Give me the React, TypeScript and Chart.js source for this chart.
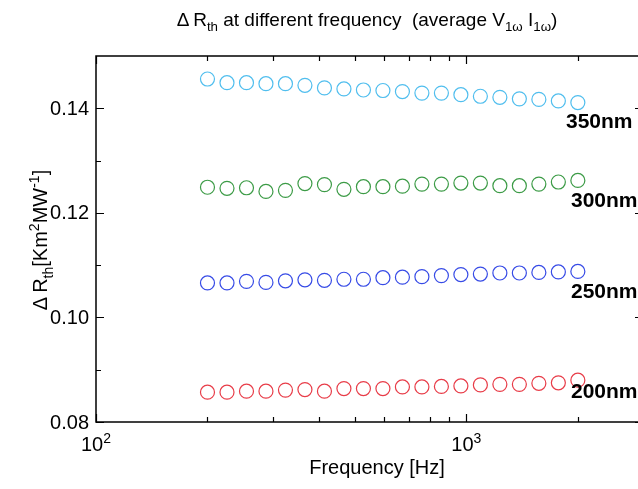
import React, { useEffect, useRef } from "react";
import { Chart, registerables } from "chart.js";

Chart.register(...registerables);

const frequencies = [200, 225.8, 254.9, 287.7, 324.8, 366.6, 413.9, 467.2, 527.4, 595.4, 672.1, 758.7, 856.5, 966.8, 1091.4, 1232.0, 1390.8, 1570.0, 1772.3, 2000.7];
const r350 = [0.1456, 0.1449, 0.1449, 0.1447, 0.1447, 0.1444, 0.1439, 0.1437, 0.1435, 0.1434, 0.1432, 0.1429, 0.1429, 0.1426, 0.1423, 0.1421, 0.1418, 0.1417, 0.1414, 0.1411];
const r300 = [0.1249, 0.1247, 0.1248, 0.1241, 0.1243, 0.1256, 0.1254, 0.1245, 0.125, 0.125, 0.1251, 0.1255, 0.1255, 0.1257, 0.1257, 0.1252, 0.1252, 0.1255, 0.1259, 0.1262];
const r250 = [0.1066, 0.1066, 0.1069, 0.1067, 0.107, 0.1072, 0.1071, 0.1073, 0.1073, 0.1076, 0.1077, 0.1078, 0.108, 0.1082, 0.1083, 0.1085, 0.1085, 0.1086, 0.1087, 0.1088];
const r200 = [0.0857, 0.0857, 0.0859, 0.0859, 0.0861, 0.0862, 0.0859, 0.0864, 0.0864, 0.0864, 0.0867, 0.0867, 0.0868, 0.0869, 0.0871, 0.0872, 0.0872, 0.0874, 0.0875, 0.088];
const seriesNames = ["350nm", "300nm", "250nm", "200nm"];
const seriesColors = ["rgb(80,190,238)", "rgb(60,155,70)", "rgb(55,75,230)", "rgb(232,60,72)"];
const yTicks = [0.08, 0.1, 0.12, 0.14];
const yTickLabels = ["0.08", "0.10", "0.12", "0.14"];
const yMinorTicks = [0.09, 0.11, 0.13];
const xMajorTicks = [100, 1000];
const xTickExponents = ["2", "3"];
const xMinorTicks = [200, 300, 400, 500, 600, 700, 800, 900, 2000, 3000];

const FONT = "'Liberation Sans', Arial, Helvetica, sans-serif";

type Seg = { t: string; m: "n" | "sub" | "sup" };

function segWidth(ctx: CanvasRenderingContext2D, segs: Seg[], size: number, weight = "normal") {
  let w = 0;
  for (const s of segs) {
    const fs = s.m === "n" ? size : size * 0.7;
    ctx.font = `${weight} ${fs}px ${FONT}`;
    w += ctx.measureText(s.t).width;
  }
  return w;
}

function drawSegs(ctx: CanvasRenderingContext2D, segs: Seg[], x: number, y: number, size: number, align: "left" | "center" | "right", weight = "normal") {
  const total = segWidth(ctx, segs, size, weight);
  let cx = align === "left" ? x : align === "center" ? x - total / 2 : x - total;
  ctx.textBaseline = "alphabetic";
  ctx.textAlign = "left";
  for (const s of segs) {
    const fs = s.m === "n" ? size : size * 0.7;
    ctx.font = `${weight} ${fs}px ${FONT}`;
    const dy = s.m === "sub" ? size * 0.28 : s.m === "sup" ? -size * 0.42 : 0;
    ctx.fillText(s.t, cx, y + dy);
    cx += ctx.measureText(s.t).width;
  }
}

const decorPlugin = {
  id: "decor",
  afterDatasetsDraw(chart: any) {
    const ctx: CanvasRenderingContext2D = chart.ctx;
    const { left, right, top, bottom } = chart.chartArea;
    const xs = chart.scales.x;
    const ys = chart.scales.y;
    ctx.save();
    ctx.strokeStyle = "#000";
    ctx.lineWidth = 1.5;
    ctx.strokeRect(left, top, right - left, bottom - top);
    ctx.lineWidth = 1.2;
    ctx.beginPath();
    const major = 8, minor = 5;
    for (const v of xMajorTicks) {
      const p = Math.round(xs.getPixelForValue(v)) + 0.5;
      ctx.moveTo(p, bottom); ctx.lineTo(p, bottom - major);
      ctx.moveTo(p, top); ctx.lineTo(p, top + major);
    }
    for (const v of xMinorTicks) {
      const p = Math.round(xs.getPixelForValue(v)) + 0.5;
      ctx.moveTo(p, bottom); ctx.lineTo(p, bottom - minor);
      ctx.moveTo(p, top); ctx.lineTo(p, top + minor);
    }
    for (const v of yTicks) {
      const p = Math.round(ys.getPixelForValue(v)) + 0.5;
      ctx.moveTo(left, p); ctx.lineTo(left + major, p);
      ctx.moveTo(right, p); ctx.lineTo(right - major, p);
    }
    for (const v of yMinorTicks) {
      const p = Math.round(ys.getPixelForValue(v)) + 0.5;
      ctx.moveTo(left, p); ctx.lineTo(left + minor, p);
      ctx.moveTo(right, p); ctx.lineTo(right - minor, p);
    }
    ctx.stroke();

    ctx.fillStyle = "#000";
    // y tick labels
    ctx.font = `20px ${FONT}`;
    ctx.textAlign = "right";
    ctx.textBaseline = "middle";
    yTicks.forEach((v, i) => {
      ctx.fillText(yTickLabels[i], left - 7, ys.getPixelForValue(v) + 1);
    });
    // x tick labels
    xMajorTicks.forEach((v, i) => {
      drawSegs(ctx, [{ t: "10", m: "n" }, { t: xTickExponents[i], m: "sup" }], xs.getPixelForValue(v), bottom + 29, 20, "center");
    });
    // x title
    drawSegs(ctx, [{ t: "Frequency [Hz]", m: "n" }], 377, 474, 20, "center");
    // y title
    ctx.save();
    ctx.translate(47, 240);
    ctx.rotate(-Math.PI / 2);
    drawSegs(ctx, [
      { t: "\u0394\u2009R", m: "n" }, { t: "th", m: "sub" }, { t: "[Km", m: "n" }, { t: "2", m: "sup" },
      { t: "MW", m: "n" }, { t: "-1", m: "sup" }, { t: "]", m: "n" },
    ], 0, 0, 20, "center");
    ctx.restore();
    // title
    drawSegs(ctx, [
      { t: "\u0394\u2009R", m: "n" }, { t: "th", m: "sub" }, { t: " at different frequency  (average V", m: "n" },
      { t: "1\u03c9", m: "sub" }, { t: " I", m: "n" }, { t: "1\u03c9", m: "sub" }, { t: ")", m: "n" },
    ], 367, 26, 19, "center");
    // series labels
    const labelY = [128, 207, 298, 398];
    const labelX = [566, 571, 571, 571];
    seriesNames.forEach((n, i) => {
      drawSegs(ctx, [{ t: n, m: "n" }], labelX[i], labelY[i], 21, "left", "bold");
    });
    ctx.restore();
  },
};

export default function App() {
  const ref = useRef<HTMLCanvasElement>(null);
  useEffect(() => {
    if (!ref.current) return;
    const all = [r350, r300, r250, r200];
    const chart = new Chart(ref.current, {
      type: "scatter",
      data: {
        datasets: all.map((vals, i) => ({
          label: seriesNames[i],
          data: frequencies.map((f, j) => ({ x: f, y: vals[j] })),
          borderColor: seriesColors[i],
          backgroundColor: "rgba(0,0,0,0)",
          pointRadius: 7,
          pointBorderWidth: 1.2,
          pointStyle: "circle",
          showLine: false,
        })),
      },
      options: {
        responsive: false,
        animation: false,
        devicePixelRatio: 1,
        layout: { padding: { left: 96, top: 56, right: 680 - 643, bottom: 489 - 422 } },
        plugins: { legend: { display: false }, tooltip: { enabled: false }, title: { display: false } },
        scales: {
          x: { type: "logarithmic", min: 100, max: 3000, display: false },
          y: { type: "linear", min: 0.08, max: 0.15, display: false },
        },
      },
      plugins: [decorPlugin],
    });
    return () => chart.destroy();
  }, []);
  return (
    <div style={{ position: "fixed", left: 0, top: 0, width: 638, height: 489, overflow: "hidden", background: "#fff" }}>
      <canvas ref={ref} width={680} height={489} style={{ display: "block", width: 680, height: 489 }} />
    </div>
  );
}
